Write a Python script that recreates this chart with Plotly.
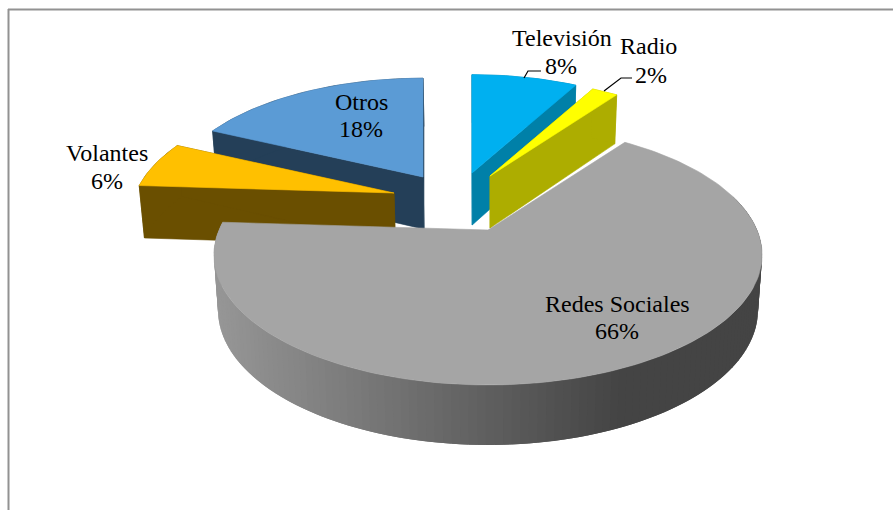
import math
import plotly.graph_objects as go

# Survey shares, clockwise from twelve o'clock
categories = ["Televisión", "Radio", "Redes Sociales", "Volantes", "Otros"]
values = [8, 2, 66, 6, 18]

top_colors = ["#00B0F0", "#FFFF00", "#A5A5A5", "#FFC000", "#5B9BD5"]
side_colors = ["#0080A8", "#ADAD00", None, "#6A4F00", "#243F58"]

# Screen offset and radius factor of each slice in the exploded layout
shift = {
    "Televisión": (-16, -57, 0.925),
    "Radio": (2, -54, 0.915),
    "Redes Sociales": (0, 0, 1.0),
    "Volantes": (-94, -37, 0.96),
    "Otros": (-65, -53, 0.93),
}
paint_order = ["Otros", "Volantes", "Televisión", "Radio", "Redes Sociales"]

# Perspective of the disc
CX, CY = 488, 230
RX, RY, K = 269, 125.2, 0.192
BOTTOM_SCALE = 0.985


def project(theta, r, dx, dy):
    """Project a disc point (clockwise angle, radius) onto the page."""
    X, Y = r * math.sin(theta), r * math.cos(theta)
    w = 1 + K * Y
    return CX + RX * X / w + dx, CY - RY * Y / w + dy


def drop(pt):
    """Same point on the underside of the disc."""
    x, y = pt
    return CX + (x - CX) * BOTTOM_SCALE, y + 45.4 + 0.038 * y


def polygon(points, color, edge=0.6):
    xs = [p[0] for p in points] + [points[0][0]]
    ys = [p[1] for p in points] + [points[0][1]]
    return go.Scatter(
        x=xs, y=ys, mode="lines", fill="toself", fillcolor=color,
        line=dict(color=color, width=edge), hoverinfo="skip", showlegend=False,
    )


def side_gray(x):
    """Shading of the big slice's rim, lit from the left."""
    t = min(max((x - 217) / (620 - 217), 0), 1)
    level = round(0x96 + (0x44 - 0x96) * t)
    return f"rgb({level},{level},{level})"


total = sum(values)
spans = {}
acc = 0
for name, v in zip(categories, values):
    spans[name] = (acc / total * 2 * math.pi, (acc + v) / total * 2 * math.pi)
    acc += v

fig = go.Figure()
for name in paint_order:
    i = categories.index(name)
    a0, a1 = spans[name]
    dx, dy, rf = shift[name]
    n = max(8, int((a1 - a0) / (2 * math.pi) * 240))
    rim = [project(a0 + (a1 - a0) * j / n, rf, dx, dy) for j in range(n + 1)]
    apex = project(0, 0, dx, dy)
    side = side_colors[i]

    if side is not None:
        for edge in (rim[0], rim[-1]):
            fig.add_trace(polygon([apex, edge, drop(edge), drop(apex)], side))
        fig.add_trace(polygon(rim + [drop(p) for p in reversed(rim)], side))
    else:
        # Overlapping strips so the rim shades without visible joins
        for j in range(n):
            p, q = rim[j], rim[min(j + 2, n)]
            if p[1] > CY - 30 or q[1] > CY - 30:
                color = side_gray((p[0] + rim[j + 1][0]) / 2)
                fig.add_trace(polygon([p, q, drop(q), drop(p)], color, edge=0))

    fig.add_trace(polygon([apex] + rim, top_colors[i]))

# Label placement: page centre of the name line, then of the percentage line
label_pos = {
    "Televisión": ((562, 38), (561, 66)),
    "Radio": ((648, 46), (651, 75)),
    "Redes Sociales": ((617, 304), (617, 331)),
    "Volantes": ((107, 153), (107, 181)),
    "Otros": ((361, 102), (361, 129)),
}
for name, v in zip(categories, values):
    for (x, y), text in zip(label_pos[name], (name, f"{v}%")):
        fig.add_annotation(
            x=x, y=y, text=text, showarrow=False, xanchor="center", yanchor="middle",
            font=dict(family="Liberation Serif", size=24, color="#000000"),
        )

# Leader lines for the two small slices
leaders = [
    [(541, 71), (528, 71), (524, 78)],
    [(632, 78), (621, 78), (604, 91)],
]
for pts in leaders:
    path = "M " + " L ".join(f"{x},{y}" for x, y in pts)
    fig.add_shape(type="path", path=path, line=dict(color="#000000", width=1.2))

# Chart frame: top and left edges only reach the page
fig.add_shape(type="line", x0=8, y0=9.5, x1=893, y1=9.5, line=dict(color="#929292", width=2))
fig.add_shape(type="line", x0=8.5, y0=9, x1=8.5, y1=510, line=dict(color="#929292", width=2))

fig.update_layout(
    width=893, height=510, margin=dict(l=0, r=0, t=0, b=0),
    paper_bgcolor="#FFFFFF", plot_bgcolor="#FFFFFF", showlegend=False,
    xaxis=dict(range=[0, 893], visible=False, fixedrange=True),
    yaxis=dict(range=[510, 0], visible=False, fixedrange=True),
)
fig.write_html("out.html", config=dict(displayModeBar=False))
